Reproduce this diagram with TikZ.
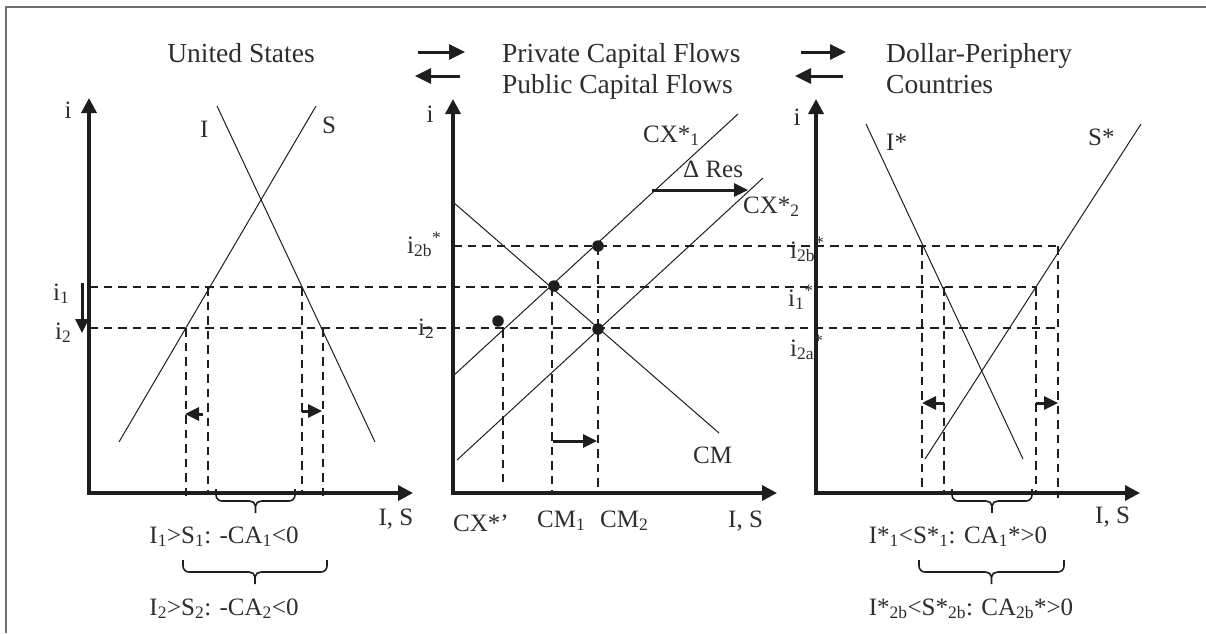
\documentclass[tikz,border=0pt]{standalone}
\usepackage{fontspec}
\setmainfont{Liberation Serif}
\usetikzlibrary{arrows.meta}
\definecolor{ink}{RGB}{30,30,30}
\definecolor{txt}{RGB}{45,45,45}
\definecolor{framecol}{RGB}{110,110,110}
\newcommand\drawcbrace[3]{%
  \pgfmathsetmacro\bmid{(#1+#2)/2}%
  \draw[brc] (#1,#3) -- (#1,#3+6) to[out=-90,in=180] (#1+6,#3+12) -- (\bmid-6,#3+12) to[out=0,in=90] (\bmid,#3+17) -- (\bmid,#3+24)
    (\bmid,#3+17) to[out=90,in=180] (\bmid+6,#3+12) -- (#2-6,#3+12) to[out=0,in=-90] (#2,#3+6) -- (#2,#3);}
\begin{document}
\begin{tikzpicture}[x=1pt,y=-1pt,
  lbl/.style={font=\fontsize{25}{30}\selectfont, text=txt, inner sep=0pt},
  ttl/.style={font=\fontsize{27.5}{32}\selectfont, text=txt, inner sep=0pt},
  axes/.style={line width=3.5pt, draw=ink, {Triangle[length=15pt,width=15pt]}-{Triangle[length=15pt,width=15pt]}},
  curve/.style={line width=1pt, draw=ink},
  guide/.style={line width=1.8pt, draw=ink, dash pattern=on 8.5pt off 6pt},
  movearrow/.style={line width=3pt, draw=ink, -{Triangle[length=14pt,width=13pt]}},
  flow/.style={line width=3pt, draw=ink, -{Triangle[length=16pt,width=15pt]}},
  dot/.style={circle, fill=ink, inner sep=0pt, minimum size=11.5pt},
  brc/.style={draw=ink, line width=1.6pt, line join=round},
]
\useasboundingbox (0,0) rectangle (1206,633);
% frame
\draw[framecol, line width=2pt] (6,633) -- (6,7) -- (1206,7);

% ---------- titles ----------
\node[ttl, anchor=base] (tUS) at (241,62) {United States};
\node[ttl, anchor=base west] (tPriv) at (502,62) {Private Capital Flows};
\node[ttl, anchor=base west] (tPub) at (502,93) {Public Capital Flows};
\node[ttl, anchor=base west] (tDP) at (886,62) {Dollar-Periphery};
\node[ttl, anchor=base west] (tC) at (886,93) {Countries};
\coordinate (f1a) at (418,52); \coordinate (f1b) at (465,52);
\coordinate (f2a) at (460,76); \coordinate (f2b) at (415,76);
\coordinate (f3a) at (801,52); \coordinate (f3b) at (846,52);
\coordinate (f4a) at (843,76); \coordinate (f4b) at (795,76);
\draw[flow] (f1a) -- (f1b);
\draw[flow] (f2a) -- (f2b);
\draw[flow] (f3a) -- (f3b);
\draw[flow] (f4a) -- (f4b);

% ---------- guides (horizontal) ----------
\coordinate (h1a) at (89,287);  \coordinate (h1b) at (1036,287);
\coordinate (h2a) at (89,328);  \coordinate (h2b) at (1058,328);
\coordinate (h3a) at (453,246); \coordinate (h3b) at (1058,246);
\draw[guide] (h1a) -- (h1b);
\draw[guide] (h2a) -- (h2b);
\draw[guide] (h3a) -- (h3b);

% ---------- left panel ----------
\coordinate (LO) at (89,493); \coordinate (LY) at (89,98); \coordinate (LX) at (413,493);
\draw[axes] (LY) -- (LO) -- (LX);
\coordinate (Ia) at (217,106); \coordinate (Ib) at (375,442);
\coordinate (Sa) at (316,106); \coordinate (Sb) at (119,442);
\draw[curve] (Ia) -- (Ib);
\draw[curve] (Sa) -- (Sb);
\foreach \x/\ya/\yb in {208/287/493, 302/287/493, 186/328/497, 323/328/497}
  \draw[guide] (\x,\ya) -- (\x,\yb);
\coordinate (da) at (82,283); \coordinate (db) at (82,333);
\draw[movearrow] (da) -- (db);
\coordinate (l1a) at (203,414); \coordinate (l1b) at (185,414);
\coordinate (l2a) at (302,411); \coordinate (l2b) at (322,411);
\draw[movearrow] (l1a) -- (l1b);
\draw[movearrow] (l2a) -- (l2b);
\node[lbl, anchor=base] (Li) at (68,118) {i};
\node[lbl, anchor=base west] (Li1) at (53,300) {i\textsubscript{1}};
\node[lbl, anchor=base west] (Li2) at (55,339) {i\textsubscript{2}};
\node[lbl, anchor=base west] (LI) at (200,137) {I};
\node[lbl, anchor=base west] (LS) at (322,133) {S};
\node[lbl, anchor=base] (LIS) at (396,525) {I, S};
\drawcbrace{216}{295}{489}
\drawcbrace{183}{327}{560}
\node[lbl, anchor=base] (Lt1) at (224,543) {I\textsubscript{1}>S\textsubscript{1}: -CA\textsubscript{1}<0};
\node[lbl, anchor=base] (Lt2) at (224,615) {I\textsubscript{2}>S\textsubscript{2}: -CA\textsubscript{2}<0};

% ---------- middle panel ----------
\coordinate (MO) at (453,493); \coordinate (MY) at (453,99); \coordinate (MX) at (777,493);
\draw[axes] (MY) -- (MO) -- (MX);
\coordinate (X1a) at (453,376); \coordinate (X1b) at (738,114);
\coordinate (X2a) at (457,460); \coordinate (X2b) at (763,178);
\coordinate (CMa) at (453,202); \coordinate (CMb) at (719,433);
\draw[curve] (X1a) -- (X1b);
\draw[curve] (X2a) -- (X2b);
\draw[curve] (CMa) -- (CMb);
\foreach \x/\ya/\yb in {503/329/482, 552/287/493, 598/246/493}
  \draw[guide] (\x,\ya) -- (\x,\yb);
\node[dot] (d1) at (498,321) {};
\node[dot] (d2) at (554,286) {};
\node[dot] (d3) at (598,246) {};
\node[dot] (d4) at (598,329) {};
\coordinate (m1a) at (553,441); \coordinate (m1b) at (597,441);
\draw[movearrow] (m1a) -- (m1b);
\coordinate (ra) at (652,190); \coordinate (rb) at (748,190);
\draw[movearrow] (ra) -- (rb);
\node[lbl, anchor=base] (Mi) at (430,122) {i};
\node[lbl, anchor=base west] (Mi2b) at (407,253) {i\textsubscript{2b}\textsuperscript{*}};
\node[lbl, anchor=base west] (Mi2) at (418,335) {i\textsubscript{2}};
\node[lbl, anchor=base west] (MX1) at (643,142) {CX*\textsubscript{1}};
\node[lbl, anchor=base west] (MRes) at (683,177) {Δ Res};
\node[lbl, anchor=base west] (MX2) at (743,213) {CX*\textsubscript{2}};
\node[lbl, anchor=base west] (MCM) at (693,463) {CM};
\node[lbl, anchor=base west] (MXp) at (453,531) {CX*’};
\node[lbl, anchor=base west] (MCM1) at (537,527) {CM\textsubscript{1}};
\node[lbl, anchor=base west] (MCM2) at (600,527) {CM\textsubscript{2}};
\node[lbl, anchor=base west] (MIS) at (728,527) {I, S};

% ---------- right panel ----------
\coordinate (RO) at (816,493); \coordinate (RY) at (816,99); \coordinate (RX) at (1140,493);
\draw[axes] (RY) -- (RO) -- (RX);
\coordinate (Isa) at (866,124); \coordinate (Isb) at (1023,459);
\coordinate (Ssa) at (1141,124); \coordinate (Ssb) at (925,459);
\draw[curve] (Isa) -- (Isb);
\draw[curve] (Ssa) -- (Ssb);
\foreach \x/\ya/\yb in {922/246/493, 944/287/493, 1036/287/493, 1058/246/498}
  \draw[guide] (\x,\ya) -- (\x,\yb);
\coordinate (r1a) at (944,403); \coordinate (r1b) at (922,403);
\coordinate (r2a) at (1036,403); \coordinate (r2b) at (1058,403);
\draw[movearrow] (r1a) -- (r1b);
\draw[movearrow] (r2a) -- (r2b);
\node[lbl, anchor=base] (Ri) at (797,125) {i};
\node[lbl, anchor=base west] (Ri2b) at (790,258) {i\textsubscript{2b}\textsuperscript{*}};
\node[lbl, anchor=base west] (Ri1) at (788,306) {i\textsubscript{1}\textsuperscript{*}};
\node[lbl, anchor=base west] (Ri2a) at (790,356) {i\textsubscript{2a}\textsuperscript{*}};
\node[lbl, anchor=base west] (RI) at (886,150) {I*};
\node[lbl, anchor=base west] (RS) at (1088,145) {S*};
\node[lbl, anchor=base west] (RIS) at (1095,523) {I, S};
\drawcbrace{952}{1032}{489}
\drawcbrace{919}{1064}{560}
\node[lbl, anchor=base] (Rt1) at (958,543) {I*\textsubscript{1}<S*\textsubscript{1}: CA\textsubscript{1}*>0};
\node[lbl, anchor=base] (Rt2) at (971,615) {I*\textsubscript{2b}<S*\textsubscript{2b}: CA\textsubscript{2b}*>0};
\end{tikzpicture}
\end{document}
